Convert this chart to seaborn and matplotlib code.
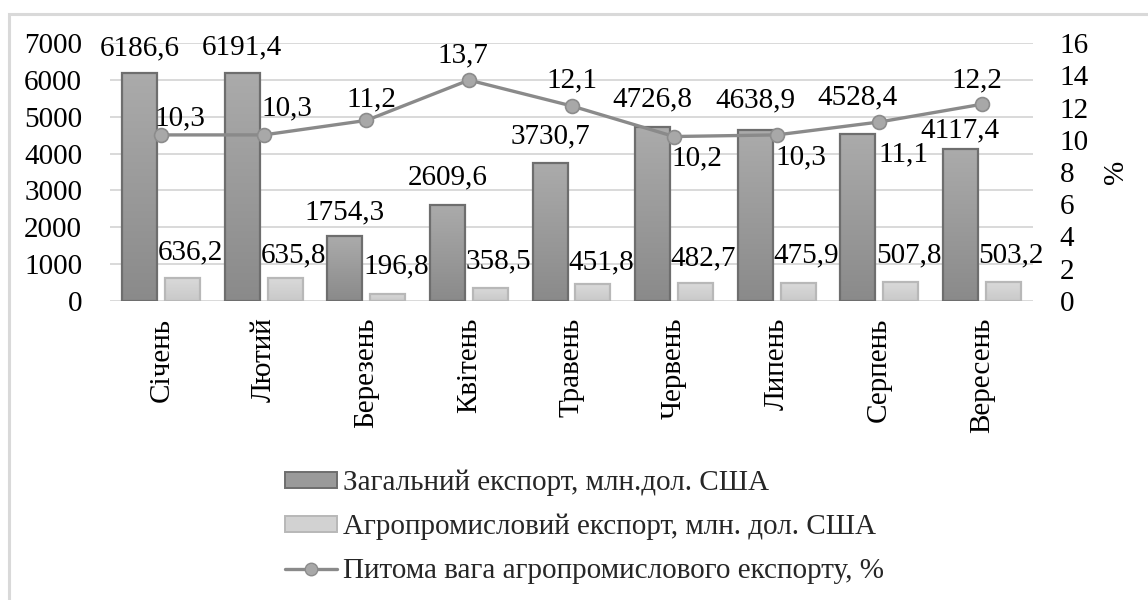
import numpy as np
import pandas as pd
import matplotlib
matplotlib.use("Agg")
import matplotlib.pyplot as plt
import seaborn as sns
from matplotlib.patches import Patch, Rectangle
from matplotlib.lines import Line2D
from matplotlib.colors import LinearSegmentedColormap

# --- data -------------------------------------------------------------
months = ["Січень", "Лютий", "Березень", "Квітень", "Травень",
          "Червень", "Липень", "Серпень", "Вересень"]
total_export = [6186.6, 6191.4, 1754.3, 2609.6, 3730.7, 4726.8, 4638.9, 4528.4, 4117.4]
agro_export = [636.2, 635.8, 196.8, 358.5, 451.8, 482.7, 475.9, 507.8, 503.2]
agro_share = [10.3, 10.3, 11.2, 13.7, 12.1, 10.2, 10.3, 11.1, 12.2]

name_total = "Загальний експорт, млн.дол. США"
name_agro = "Агропромисловий експорт, млн. дол. США"
name_share = "Питома вага агропромислового експорту, %"

left_ticks = [0, 1000, 2000, 3000, 4000, 5000, 6000, 7000]
right_ticks = [0, 2, 4, 6, 8, 10, 12, 14, 16]

# label offsets in pixels (dx, dy upward)
total_lbl_dy = [25, 25, 24, 27, 27, 27, 30, 37, 19]
agro_lbl_dy = [25, 22, 27, 26, 22, 25, 28, 27, 27]
share_lbl_off = [(19, 17), (23, 27), (5, 21), (-6, 25), (0, 26),
                 (23, -22), (24, -22), (24, -32), (-5, 24)]

def fmt(v):
    return f"{v:.1f}".replace(".", ",")

# --- style ------------------------------------------------------------
sns.set_theme(style="white")
plt.rcParams["font.family"] = ["Liberation Serif", "DejaVu Serif"]
FS = 21

dark_top, dark_bot, dark_edge = "#ababab", "#8a8a8a", "#6e6e6e"
light_top, light_bot, light_edge = "#dadada", "#c9c9c9", "#b8b8b8"
line_col, mark_face, mark_edge = "#8a8a8a", "#a8a8a8", "#8c8c8c"
grid_col = "#d9d9d9"

fig = plt.figure(figsize=(11.48, 6.0), dpi=100)
ax = fig.add_axes([110 / 1148, 1 - 301 / 600, (1033 - 110) / 1148, (301 - 43) / 600])

df = pd.DataFrame({
    "month": months * 2,
    "value": total_export + agro_export,
    "series": [name_total] * len(months) + [name_agro] * len(months),
})

sns.barplot(data=df, x="month", y="value", hue="series", order=months,
            hue_order=[name_total, name_agro],
            palette=[dark_bot, light_bot], width=0.838, gap=0.186,
            legend=False, ax=ax, zorder=3)

ax.set_ylim(0, 7000)
ax.set_xlim(-0.5, len(months) - 0.5)
ax.set_yticks(left_ticks)
ax.set_yticklabels([str(t) for t in left_ticks], fontsize=FS, color="black")
ax.tick_params(axis="y", length=0, pad=20)
ax.tick_params(axis="x", length=0, pad=12)
ax.set_xticks(range(len(months)))
ax.set_xticklabels(months, rotation=90, fontsize=FS, color="black")
ax.set_xlabel("")
ax.set_ylabel("")
ax.yaxis.grid(True, color=grid_col, lw=1.4, zorder=0)
ax.set_axisbelow(True)
for s in ax.spines.values():
    s.set_visible(False)

# gradient fill for the bars
cm_dark = LinearSegmentedColormap.from_list("d", [dark_bot, dark_top])
cm_light = LinearSegmentedColormap.from_list("l", [light_bot, light_top])
grad = np.linspace(0, 1, 256).reshape(-1, 1)
bars = list(ax.patches)
n = len(months)
for i, p in enumerate(bars):
    is_dark = i < n
    x0, y0 = p.get_x(), p.get_y()
    w, h = p.get_width(), p.get_height()
    im = ax.imshow(grad, extent=[x0, x0 + w, y0, y0 + h], origin="lower",
                   aspect="auto", cmap=cm_dark if is_dark else cm_light,
                   zorder=2.5, interpolation="bilinear")
    im.set_clip_path(p)
    p.set_facecolor("none")
    p.set_edgecolor(dark_edge if is_dark else light_edge)
    p.set_linewidth(1.6)
    p.set_zorder(3)
ax.set_xlim(-0.5, n - 0.5)
ax.set_ylim(0, 7000)

# bar value labels
for i, p in enumerate(bars):
    cx = p.get_x() + p.get_width() / 2
    top = p.get_height()
    if i < n:
        ax.annotate(fmt(total_export[i]), (cx, top), xytext=(0, total_lbl_dy[i]),
                    textcoords="offset pixels", ha="center", va="center",
                    fontsize=FS, color="black", zorder=6)
    else:
        j = i - n
        ax.annotate(fmt(agro_export[j]), (cx, top), xytext=(8, agro_lbl_dy[j]),
                    textcoords="offset pixels", ha="center", va="center",
                    fontsize=FS, color="black", zorder=6)

# share line on secondary axis
ax2 = ax.twinx()
pos = np.arange(n)
sns.lineplot(x=pos, y=agro_share, ax=ax2, color=line_col, lw=2.4,
             marker="o", markersize=10, markerfacecolor=mark_face,
             markeredgecolor=mark_edge, markeredgewidth=1.2, zorder=5)
ax2.set_ylim(0, 16)
ax2.set_yticks(right_ticks)
ax2.set_yticklabels([str(t) for t in right_ticks], fontsize=FS, color="black")
ax2.tick_params(axis="y", length=0, pad=19)
ax2.set_ylabel("%", fontsize=FS, color="black", labelpad=10)
ax2.grid(False)
for s in ax2.spines.values():
    s.set_visible(False)
ax2.set_xlim(-0.5, n - 0.5)

for i, v in enumerate(agro_share):
    dx, dy = share_lbl_off[i]
    ax2.annotate(fmt(v), (pos[i], v), xytext=(dx, dy), textcoords="offset pixels",
                 ha="center", va="center", fontsize=FS, color="black", zorder=7)

# legend below the plot
handles = [
    Patch(facecolor="#9a9a9a", edgecolor=dark_edge, lw=1.4),
    Patch(facecolor="#d2d2d2", edgecolor=light_edge, lw=1.4),
    Line2D([], [], color=line_col, lw=2.4, marker="o", markersize=9,
           markerfacecolor=mark_face, markeredgecolor=mark_edge),
]
fig.legend(handles, [name_total, name_agro, name_share],
           loc="upper left", bbox_to_anchor=(285 / 1148, 1 - 470 / 600),
           frameon=False, fontsize=FS, handlelength=1.78, handleheight=0.45,
           handletextpad=0.2, labelspacing=0.6, borderpad=0, borderaxespad=0)

# chart frame
fig.patches.append(Rectangle((8.5 / 1148, -0.1), 1.2, 1 - 14 / 600 + 0.1,
                             transform=fig.transFigure, fill=False,
                             edgecolor="#d9d9d9", lw=2.2, zorder=0))

fig.savefig("out.png", dpi=100)
